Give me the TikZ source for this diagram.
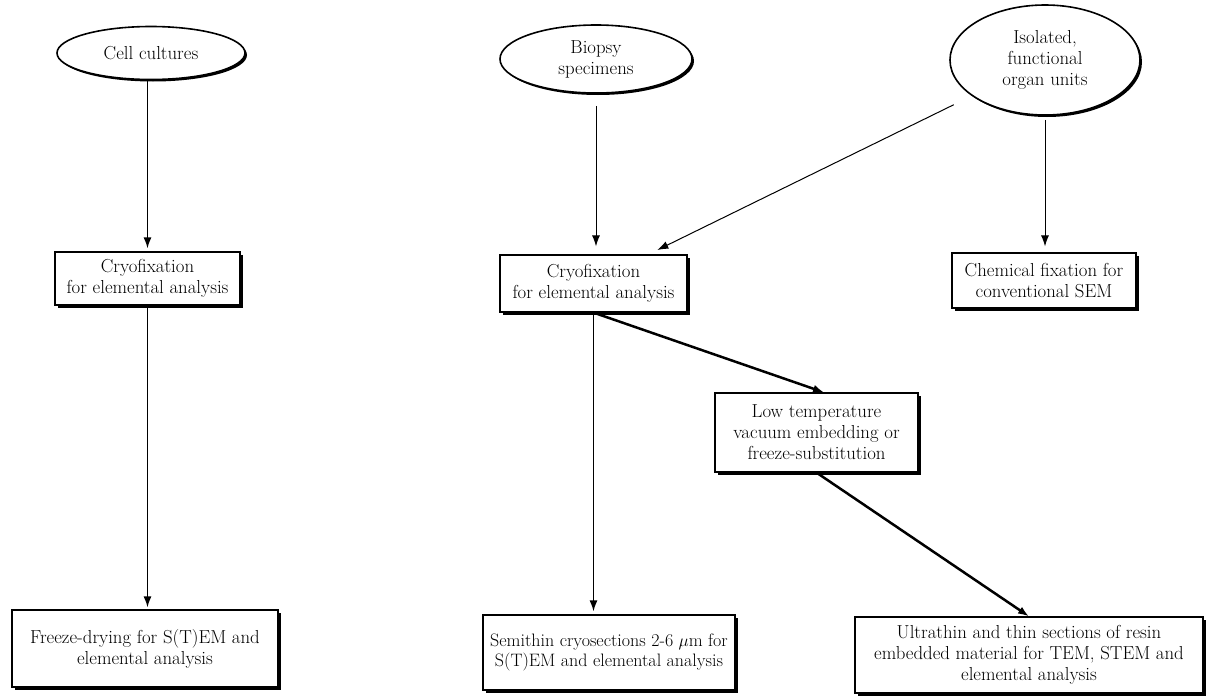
\documentclass[tikz,border=0pt]{standalone}
\usetikzlibrary{arrows.meta,shadows,calc,shapes.geometric}
\begin{document}
\begin{tikzpicture}[x=1pt,y=-1pt,
  every node/.style={font=\fontsize{18.8}{21}\selectfont, align=center, inner sep=0pt},
  procbox/.style={draw, line width=1.2pt, fill=white,
    drop shadow={shadow xshift=3pt, shadow yshift=-3pt, fill=black, opacity=1}},
  source/.style={ellipse, draw, line width=1.6pt, fill=white,
    drop shadow={shadow xshift=2pt, shadow yshift=-2pt, fill=black, opacity=1}},
  arr/.style={-{Latex[length=11pt,width=8pt]}},
]
\path[use as bounding box, fill=white] (0,0) rectangle (1211,696);

\node[source, minimum width=188pt, minimum height=53pt] (cc) at (151,53) {Cell cultures};
\node[source, minimum width=192pt, minimum height=68pt] (bio) at (596,59) {Biopsy\\specimens};
\node[source, minimum width=190pt, minimum height=110pt] (iso) at (1045,60) {Isolated,\\functional\\organ units};

\node[procbox, minimum width=185pt, minimum height=53pt] (cryoA) at (147.5,278.5) {Cryofixation\\for elemental analysis};
\node[procbox, minimum width=187pt, minimum height=57pt] (cryoB) at (593.5,283.5) {Cryofixation\\for elemental analysis};
\node[procbox, minimum width=184pt, minimum height=55pt] (chem) at (1044,280.5) {Chemical fixation for\\conventional SEM};
\node[procbox, minimum width=203pt, minimum height=79pt] (low) at (816.5,432.5) {Low temperature\\vacuum embedding or\\freeze-substitution};
\node[procbox, minimum width=266pt, minimum height=77pt] (fd) at (145,648.5) {Freeze-drying for S(T)EM and\\elemental analysis};
\node[procbox, minimum width=252pt, minimum height=75pt, font=\fontsize{18}{20.5}\selectfont] (semi) at (609,652.5) {Semithin cryosections 2-6 $\mu$m for\\S(T)EM and elemental analysis};
\node[procbox, minimum width=348pt, minimum height=76pt] (ultra) at (1029,655) {Ultrathin and thin sections of resin\\embedded material for TEM, STEM and\\elemental analysis};

\draw[arr, line width=1.5pt, shorten >=3pt] (cc.south -| cryoA.north) -- (cryoA.north);
\draw[arr, line width=1.5pt, shorten >=2pt] (cryoA.south) -- (cryoA.south |- fd.north);
\draw[arr, line width=1pt, shorten <=12pt, shorten >=8pt] (bio.south) -- (bio.south |- cryoB.north);
\draw[arr, line width=1pt, shorten <=20pt, shorten >=10pt] (iso) -- ($(cryoB.north east)!0.417!(cryoB.north)$);
\draw[arr, line width=1pt, shorten <=4pt, shorten >=6pt] (iso.south) -- (iso.south |- chem.north);
\draw[arr, line width=1.5pt, shorten >=3pt] (cryoB.south) -- (cryoB.south |- semi.north);
\draw[arr, line width=2.5pt] (cryoB.south) -- ($(low.north west)!0.537!(low.north east)$);
\draw[arr, line width=2.5pt] (low.south) -- (ultra.north);
\end{tikzpicture}
\end{document}
